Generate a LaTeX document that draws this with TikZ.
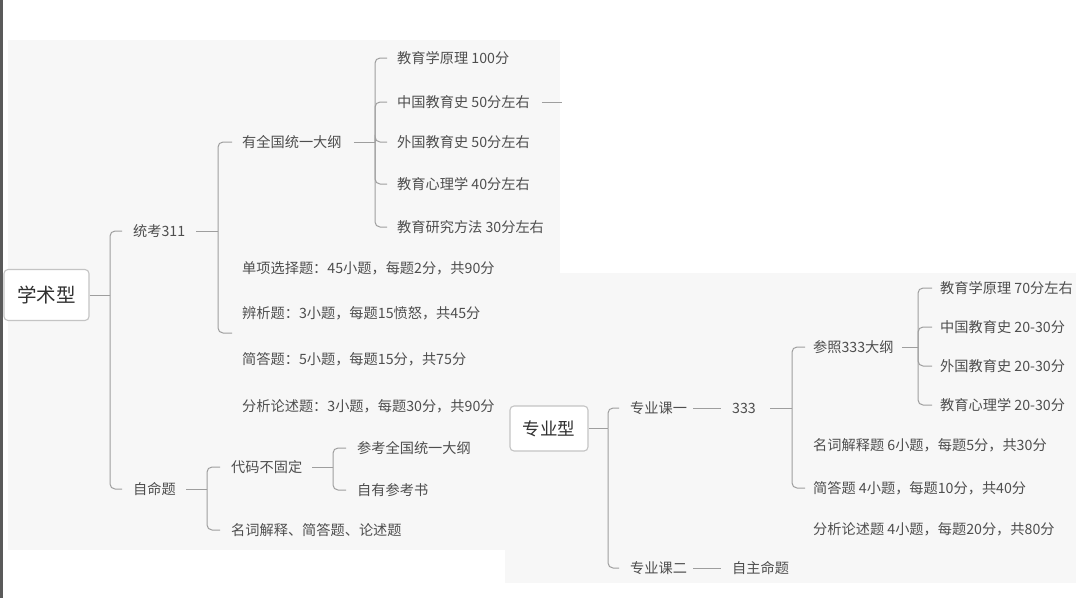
\documentclass[tikz,border=0pt]{standalone}
\usepackage{fontspec}
\newfontfamily\cjk{Noto Sans CJK SC}
\usetikzlibrary{positioning}
\definecolor{panelgray}{HTML}{F7F7F7}
\definecolor{linegray}{HTML}{9E9E9E}
\definecolor{boxgray}{HTML}{C4C4C4}
\definecolor{txtgray}{HTML}{4E4E4E}
\definecolor{rootgray}{HTML}{303030}
\definecolor{edgegray}{HTML}{5A5A5A}

\tikzset{
  item/.style={anchor=west, inner sep=0pt, text=txtgray, font=\cjk\fontsize{14.2}{16}\selectfont},
  root/.style={draw=boxgray, fill=white, rounded corners=4pt, line width=1.1pt, inner sep=0pt, text=rootgray},
  link/.style={draw=linegray, line width=1pt, rounded corners=5pt},
}

\begin{document}
\begin{tikzpicture}[x=1pt, y=-1pt]
  \useasboundingbox (0,0) rectangle (1080,598);
  \fill[white] (0,0) rectangle (1080,598);
  \fill[panelgray] (8,40) rectangle (560,550);
  \fill[panelgray] (505,273) rectangle (1076,583);
  \draw[edgegray, line width=3pt] (1.5,0) -- (1.5,598);

  % academic branch
  \node[root, minimum width=85pt, minimum height=51pt, font=\cjk\fontsize{19.5}{22}\selectfont] (xs) at (46.5,295) {学术型};
  \node[item] (tk) at (133,231) {统考311};
  \node[item] (zmt) at (133,489) {自命题};
  \coordinate (s1) at (110,295);
  \draw[link] (xs.east) -- (s1);
  \draw[link] (s1) |- ([xshift=-11pt]tk.west);
  \draw[link] (s1) |- ([xshift=-11pt]zmt.west);

  \node[item] (dg) at (242,142) {有全国统一大纲};
  \node[item] (dx) at (242,268) {单项选择题：45小题，每题2分，共90分};
  \node[item] (bx) at (242,313) {辨析题：3小题，每题15愤怒，共45分};
  \node[item] (jd) at (242,359) {简答题：5小题，每题15分，共75分};
  \node[item] (fx) at (242,406) {分析论述题：3小题，每题30分，共90分};
  \coordinate (s2) at (218,231);
  \coordinate (e2) at (232,333);
  \draw[link] ([xshift=11pt]tk.east) -- (s2);
  \draw[link] (s2) |- ([xshift=-10pt]dg.west);
  \draw[link] (s2) |- (e2);

  \node[item] (a1) at (397,58) {教育学原理 100分};
  \node[item] (a2) at (397,102) {中国教育史 50分左右};
  \node[item] (a3) at (397,142) {外国教育史 50分左右};
  \node[item] (a4) at (397,184) {教育心理学 40分左右};
  \node[item] (a5) at (397,227) {教育研究方法 30分左右};
  \coordinate (s3) at (375,142);
  \draw[link] ([xshift=12pt]dg.east) -- (s3);
  \foreach \c in {a1,a2,a3,a4,a5}
    \draw[link] (s3) |- ([xshift=-10pt]\c.west);
  \coordinate (a2end) at (562,102);
  \draw[link] ([xshift=12pt]a2.east) -- (a2end);

  \node[item] (dm) at (231,467) {代码不固定};
  \node[item] (mc) at (231,530) {名词解释、简答题、论述题};
  \coordinate (s4) at (207,489);
  \draw[link] ([xshift=10pt]zmt.east) -- (s4);
  \draw[link] (s4) |- ([xshift=-11pt]dm.west);
  \draw[link] (s4) |- ([xshift=-11pt]mc.west);

  \node[item] (ck) at (357,448) {参考全国统一大纲};
  \node[item] (zy) at (357,490) {自有参考书};
  \coordinate (s5) at (333,467);
  \draw[link] ([xshift=10pt]dm.east) -- (s5);
  \draw[link] (s5) |- ([xshift=-11pt]ck.west);
  \draw[link] (s5) |- ([xshift=-11pt]zy.west);

  % professional branch
  \node[root, minimum width=78pt, minimum height=45pt, font=\cjk\fontsize{17.5}{20}\selectfont] (zyx) at (549,428.5) {专业型};
  \node[item] (k1) at (630,408) {专业课一};
  \node[item] (k2) at (630,568) {专业课二};
  \coordinate (s6) at (608,428.5);
  \draw[link] (zyx.east) -- (s6);
  \draw[link] (s6) |- ([xshift=-11pt]k1.west);
  \draw[link] (s6) |- ([xshift=-11pt]k2.west);

  \node[item] (n333) at (732,408) {333};
  \node[item] (zz) at (732,568) {自主命题};
  \draw[link] ([xshift=6pt]k1.east) -- ([xshift=-11pt]n333.west);
  \draw[link] ([xshift=6pt]k2.east) -- ([xshift=-11pt]zz.west);

  \node[item] (cz) at (813,347) {参照333大纲};
  \node[item] (mj) at (813,445) {名词解释题 6小题，每题5分，共30分};
  \node[item] (jd2) at (813,488) {简答题 4小题，每题10分，共40分};
  \node[item] (fx2) at (813,529) {分析论述题 4小题，每题20分，共80分};
  \coordinate (s7) at (792,408);
  \draw[link] ([xshift=14pt]n333.east) -- (s7);
  \draw[link] (s7) |- ([xshift=-8pt]cz.west);
  \draw[link] (s7) |- ([xshift=-8pt]jd2.west);

  \node[item] (b1) at (940,288) {教育学原理 70分左右};
  \node[item] (b2) at (940,327) {中国教育史 20-30分};
  \node[item] (b3) at (940,366) {外国教育史 20-30分};
  \node[item] (b4) at (940,405) {教育心理学 20-30分};
  \coordinate (s8) at (918,347);
  \draw[link] ([xshift=8pt]cz.east) -- (s8);
  \foreach \c in {b1,b2,b3,b4}
    \draw[link] (s8) |- ([xshift=-8pt]\c.west);
\end{tikzpicture}
\end{document}
